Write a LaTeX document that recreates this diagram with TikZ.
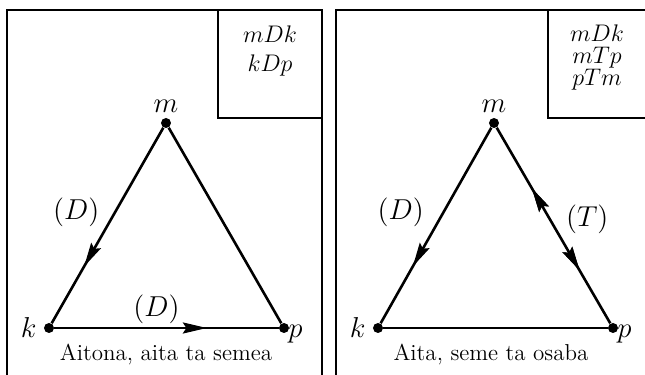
\documentclass[tikz,border=0pt]{standalone}
\usetikzlibrary{arrows.meta, decorations.markings, positioning}

\begin{document}
\begin{tikzpicture}[x=0.5pt,y=-0.5pt,font=\fontsize{11.5}{13}\selectfont,
    dot/.style={circle,fill,inner sep=0pt,minimum size=5pt},
    lab/.style={font=\fontsize{13.5}{16}\selectfont},
    rel/.style={font=\fontsize{12}{14}\selectfont,anchor=base,inner sep=0pt},
    frame/.style={line width=0.75pt},
    side/.style={line width=1.3pt},
    tip/.tip={Stealth[length=12pt,width=5.5pt,inset=1.8pt]},
    fwd/.style={postaction={decorate},decoration={markings,
      mark=at position #1 with {\arrow{tip}}}},
    bwd/.style={postaction={decorate},decoration={markings,
      mark=at position #1 with {\arrowreversed{tip}}}}]
    \useasboundingbox (0,0) rectangle (645,375);

    % frames
    \draw[frame] (7,375) -- (7,10) -- (322,10) -- (322,375);
    \draw[frame] (218,10) -- (218,118) -- (322,118);
    \draw[frame] (336,375) -- (336,10) -- (645,10);
    \draw[frame] (548,10) -- (548,118) -- (645,118);

    % left: grandfather, father and son
    \node[dot] (m1) at (166,123) {};
    \node[dot] (k1) at (49,328) {};
    \node[dot] (p1) at (284,328) {};
    \node[lab,above=-1pt of m1] {$m$};
    \node[lab,left=0pt of k1] {$k$};
    \node[lab,right=-4pt of p1, yshift=-3pt] {$p$};
    \draw[side,fwd=0.71] (m1) -- node[lab,pos=0.43,left=4pt] {$(D)$} (k1);
    \draw[side,fwd=0.68] (k1) -- node[lab,pos=0.455,above=-2pt] {$(D)$} (p1);
    \draw[side] (m1) -- (p1);
    \node[rel] (rel1a) at (270,42) {$mDk$};
    \node[rel] (rel1b) at (270,71) {$kDp$};
    \node (cap1) at (166,355) {Aitona, aita ta semea};

    % right: father, son and uncle
    \node[dot] (m2) at (494,123) {};
    \node[dot] (k2) at (378,328) {};
    \node[dot] (p2) at (613,328) {};
    \node[lab,above=-1pt of m2] {$m$};
    \node[lab,left=0pt of k2] {$k$};
    \node[lab,right=-4pt of p2, yshift=-3pt] {$p$};
    \draw[side,fwd=0.71] (m2) -- node[lab,pos=0.43,left=6pt] {$(D)$} (k2);
    \draw[side,bwd=0.31,fwd=0.73] (m2) -- node[lab,pos=0.47,right=4pt] {$(T)$} (p2);
    \draw[side] (k2) -- (p2);
    \node[rel] (rel2a) at (597,41) {$mDk$};
    \node[rel] (rel2b) at (597,63) {$mTp$};
    \node[rel] (rel2c) at (597,85) {$pTm$};
    \node (cap2) at (491,355) {Aita, seme ta osaba};
\end{tikzpicture}
\end{document}
